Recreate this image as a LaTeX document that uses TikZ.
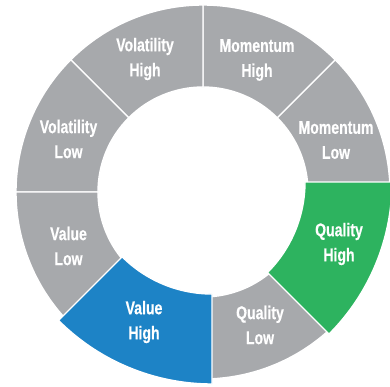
\documentclass[tikz,border=0pt]{standalone}
\usepackage{fontspec}
\setmainfont{Liberation Sans}[FakeStretch=0.76,BoldFeatures={FakeBold=0.4}]
\definecolor{ringgray}{HTML}{A7A9AC}
\definecolor{valueblue}{HTML}{1D83C6}
\definecolor{qualgreen}{HTML}{2DB35F}

\begin{document}
\begin{tikzpicture}[x=1pt,y=1pt,
    seg/.style={fill=ringgray,draw=white,line width=1.4pt},
    lbl/.style={text=white,align=center,font=\bfseries\fontsize{18.5}{25}\selectfont}]
    \useasboundingbox (-203,-194) rectangle (187,192);
    \clip (-203,-194) rectangle (187,192);
    % grey part of the ring
    \foreach \a in {0,45,90,135,180,270}
      \filldraw[seg] (\a:105) arc[start angle=\a,end angle=\a+45,radius=105]
        -- (\a+45:187) arc[start angle=\a+45,end angle=\a,radius=187] -- cycle;
    % the two pieces that stand out
    \filldraw[seg,fill=valueblue,shift={(9,25)}] (-135:127) arc[start angle=-135,end angle=-90,radius=127]
      -- (-90:217) arc[start angle=-90,end angle=-135,radius=217] -- cycle;
    \filldraw[seg,fill=qualgreen,shift={(-26,10)}] (-45:128) arc[start angle=-45,end angle=0,radius=128]
      -- (0:215) arc[start angle=0,end angle=-45,radius=215] -- cycle;
    % labels
    \node[lbl] (volhigh) at (-58,133) {Volatility\\High};
    \node[lbl] (momhigh) at (54,132) {Momentum\\High};
    \node[lbl] (momlow) at (133,52) {Momentum\\Low};
    \node[lbl] (vollow) at (-134.5,53) {Volatility\\Low};
    \node[lbl] (vallow) at (-134.5,-54) {Value\\Low};
    \node[lbl] (valhigh) at (-59,-130) {Value\\High};
    \node[lbl] (qualhigh) at (136,-52) {Quality\\High};
    \node[lbl] (quallow) at (57,-133) {Quality\\Low};
  \end{tikzpicture}
\end{document}
